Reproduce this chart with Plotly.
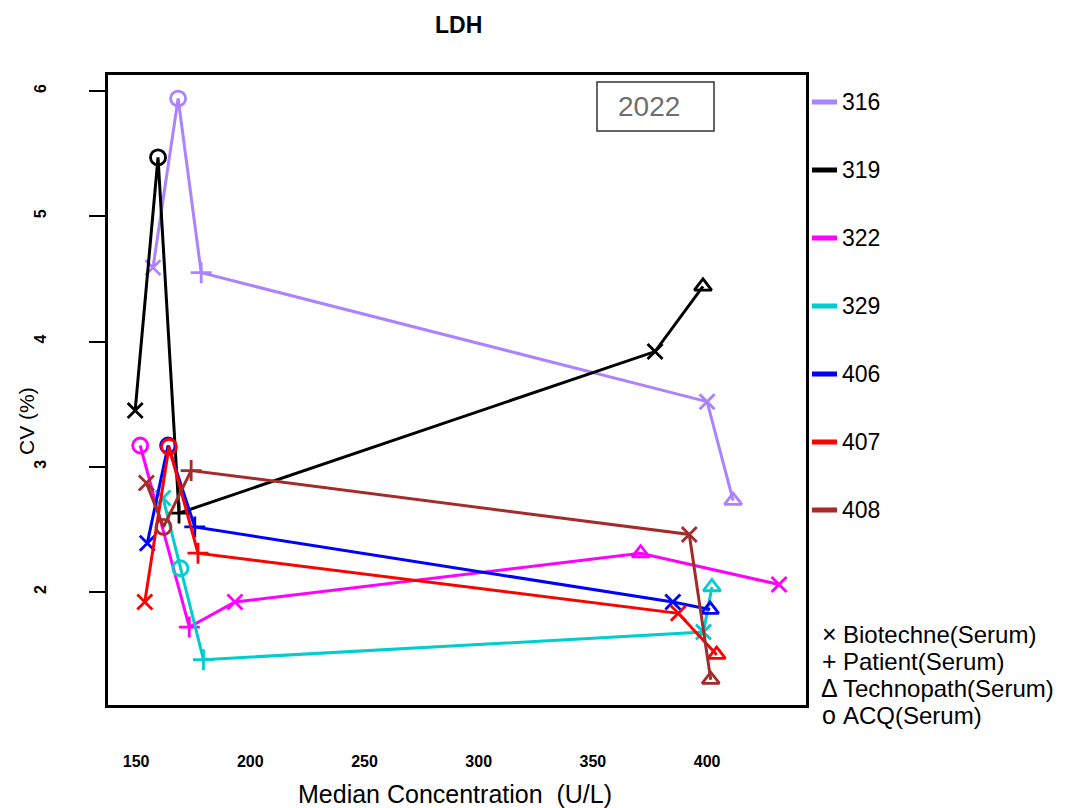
import plotly.graph_objects as go

# ---------------- data ----------------
series_names = ["316", "319", "322", "329", "406", "407", "408"]
series_colors = ["#AB82FF", "#000000", "#FF00FF", "#00CDCD", "#0000FF", "#FF0000", "#A52A2A"]

materials = ["Biotechne(Serum)", "Patient(Serum)", "Technopath(Serum)", "ACQ(Serum)"]
material_symbols = ["x-thin-open", "cross-thin-open", "triangle-up-open", "circle-open"]
material_glyphs = ["\u00d7", "+", "\u0394", "o"]

conc_316 = [157.4, 168.4, 178.5, 400.0, 411.4]
cv_316 = [4.59, 5.94, 4.55, 3.52, 2.73]
mat_316 = [0, 3, 1, 0, 2]

conc_319 = [149.6, 159.6, 168.8, 377.2, 398.2]
cv_319 = [3.45, 5.47, 2.63, 3.92, 4.44]
mat_319 = [0, 3, 1, 0, 2]

conc_322 = [151.8, 173.3, 193.3, 370.9, 431.5]
cv_322 = [3.17, 1.72, 1.92, 2.31, 2.06]
mat_322 = [3, 1, 0, 2, 0]

conc_329 = [161.8, 169.4, 179.5, 398.4, 402.1]
cv_329 = [2.75, 2.19, 1.46, 1.68, 2.04]
mat_329 = [0, 3, 1, 0, 2]

conc_406 = [154.9, 164.0, 175.7, 385.0, 401.3]
cv_406 = [2.39, 3.17, 2.52, 1.92, 1.86]
mat_406 = [0, 3, 1, 0, 2]

conc_407 = [153.8, 164.4, 177.1, 387.4, 404.2]
cv_407 = [1.92, 3.16, 2.31, 1.83, 1.50]
mat_407 = [0, 3, 1, 0, 2]

conc_408 = [154.5, 162.0, 174.1, 392.2, 401.6]
cv_408 = [2.87, 2.52, 2.97, 2.46, 1.30]
mat_408 = [0, 3, 1, 0, 2]

x_ticks = [150, 200, 250, 300, 350, 400]
y_ticks = [2, 3, 4, 5, 6]
year_label = "2022"

all_conc = [conc_316, conc_319, conc_322, conc_329, conc_406, conc_407, conc_408]
all_cv = [cv_316, cv_319, cv_322, cv_329, cv_406, cv_407, cv_408]
all_mat = [mat_316, mat_319, mat_322, mat_329, mat_406, mat_407, mat_408]

FONT = "Liberation Sans, Arial, sans-serif"

fig = go.Figure()
for name, color, xs, ys, ms in zip(series_names, series_colors, all_conc, all_cv, all_mat):
    order = sorted(range(len(xs)), key=lambda i: xs[i])
    fig.add_trace(go.Scatter(
        x=[xs[i] for i in order],
        y=[ys[i] for i in order],
        mode="lines+markers",
        name=name,
        line=dict(color=color, width=3),
        marker=dict(
            symbol=[material_symbols[ms[i]] for i in order],
            size=15,
            color=color,
            line=dict(color=color, width=2.8),
        ),
        showlegend=False,
        cliponaxis=False,
    ))

# plot box geometry in pixels (for paper-coordinate decorations)
L, R, T, B = 108, 806, 75, 705
W, H = 1069, 808
def px(x):
    return (x - L) / (R - L)
def py(y):
    return (B - y) / (B - T)

shapes = []
annotations = []

# year box
shapes.append(dict(type="rect", xref="paper", yref="paper",
                   x0=px(597), x1=px(714), y0=py(131), y1=py(82),
                   line=dict(color="#333333", width=1.5)))
annotations.append(dict(xref="paper", yref="paper", x=px(649), y=py(106.5),
                        text=year_label, showarrow=False,
                        font=dict(family=FONT, size=28, color="#6e6e6e"),
                        xanchor="center", yanchor="middle"))

# series legend (right)
leg_y = [102, 170, 238, 306, 374, 442, 510]
for name, color, yy in zip(series_names, series_colors, leg_y):
    shapes.append(dict(type="line", xref="paper", yref="paper",
                       x0=px(812), x1=px(837), y0=py(yy), y1=py(yy),
                       line=dict(color=color, width=5)))
    annotations.append(dict(xref="paper", yref="paper", x=px(840), y=py(yy),
                            text=name, showarrow=False,
                            font=dict(family=FONT, size=23, color="black"),
                            xanchor="left", yanchor="middle"))

# material legend (bottom right)
mat_y = [634, 661, 688, 715]
for glyph, label, yy in zip(material_glyphs, materials, mat_y):
    annotations.append(dict(xref="paper", yref="paper", x=px(829), y=py(yy),
                            text=glyph, showarrow=False,
                            font=dict(family=FONT, size=25, color="black"),
                            xanchor="center", yanchor="middle"))
    annotations.append(dict(xref="paper", yref="paper", x=px(841), y=py(yy),
                            text=label, showarrow=False,
                            font=dict(family=FONT, size=24, color="black"),
                            xanchor="left", yanchor="middle"))

# axis titles
annotations.append(dict(xref="paper", yref="paper", x=px(455), y=py(794),
                        text="Median Concentration  (U/L)", showarrow=False,
                        font=dict(family=FONT, size=25, color="black"),
                        xanchor="center", yanchor="middle"))
annotations.append(dict(xref="paper", yref="paper", x=px(26), y=py(421),
                        text="CV (%)", showarrow=False, textangle=-90,
                        font=dict(family=FONT, size=21, color="black"),
                        xanchor="center", yanchor="middle"))
# title
annotations.append(dict(xref="paper", yref="paper", x=px(458), y=py(25),
                        text="<b>LDH</b>", showarrow=False,
                        font=dict(family=FONT, size=23, color="black"),
                        xanchor="center", yanchor="middle"))

fig.update_layout(
    width=W, height=H,
    margin=dict(l=L, r=W - R, t=T, b=H - B, pad=0),
    paper_bgcolor="white", plot_bgcolor="white",
    shapes=shapes, annotations=annotations,
    showlegend=False,
    font=dict(family=FONT, color="black"),
)
fig.update_xaxes(
    range=[137.7, 443.3], tickvals=x_ticks, ticktext=[str(v) for v in x_ticks],
    showgrid=False, zeroline=False,
    showline=True, linecolor="black", linewidth=2.5, mirror=True,
    ticks="", ticklabelstandoff=40,
    tickfont=dict(family=FONT, size=16, color="black", weight="bold"),
)
fig.update_yaxes(
    range=[1.098, 6.128], tickvals=y_ticks, ticktext=[str(v) for v in y_ticks],
    showgrid=False, zeroline=False,
    showline=True, linecolor="black", linewidth=2.5, mirror=True,
    ticks="outside", ticklen=16, tickwidth=2, tickcolor="black",
    tickangle=-90, ticklabelstandoff=37,
    tickfont=dict(family=FONT, size=16, color="black", weight="bold"),
)

fig.write_html("out.html")
